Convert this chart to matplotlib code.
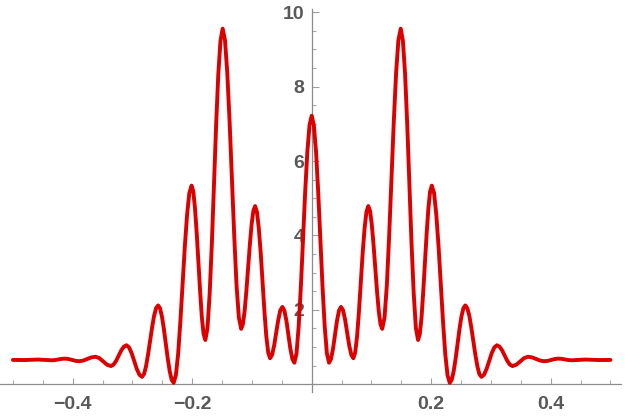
import matplotlib
matplotlib.use("Agg")
import matplotlib.pyplot as plt
from matplotlib.ticker import MultipleLocator, FixedLocator

# Curve samples (x, intensity), left half and right half
x_left = [-0.5, -0.49, -0.48, -0.469, -0.458, -0.4465, -0.435, -0.4295, -0.424, -0.4185,
          -0.413, -0.407, -0.401, -0.395, -0.389, -0.3823, -0.3755, -0.3688, -0.362, -0.3555,
          -0.349, -0.3425, -0.336, -0.3317, -0.3273, -0.323, -0.3187, -0.3143, -0.310, -0.3057,
          -0.3013, -0.297, -0.2927, -0.2883, -0.284, -0.2806, -0.2773, -0.2739, -0.2705, -0.2671,
          -0.2638, -0.2604, -0.257, -0.2538, -0.2505, -0.2473, -0.244, -0.2408, -0.2375, -0.2343,
          -0.231, -0.2273, -0.2235, -0.2198, -0.216, -0.2123, -0.2085, -0.2048, -0.201, -0.1981,
          -0.1953, -0.1924, -0.1895, -0.1866, -0.1838, -0.1809, -0.178, -0.1744, -0.1708, -0.1671,
          -0.1635, -0.1599, -0.1563, -0.1526, -0.149, -0.1451, -0.1413, -0.1374, -0.1335, -0.1296,
          -0.1258, -0.1219, -0.118, -0.1151, -0.1122, -0.1093, -0.1064, -0.1034, -0.1005, -0.0976,
          -0.0947, -0.0916, -0.0885, -0.0853, -0.0822, -0.0791, -0.076, -0.0728, -0.0697, -0.0663,
          -0.0628, -0.0594, -0.0559, -0.0525, -0.049, -0.0457, -0.0423, -0.039, -0.0357, -0.0323,
          -0.029, -0.0254, -0.0218, -0.0181, -0.0145, -0.0109, -0.0073, -0.0036]
y_left = [0.655, 0.653, 0.652, 0.658, 0.665, 0.655, 0.645, 0.652, 0.668, 0.683,
          0.69, 0.68, 0.655, 0.63, 0.62, 0.638, 0.68, 0.723, 0.74, 0.704,
          0.615, 0.527, 0.49, 0.528, 0.63, 0.77, 0.91, 1.012, 1.05, 0.993,
          0.838, 0.625, 0.413, 0.257, 0.20, 0.273, 0.481, 0.793, 1.16, 1.527,
          1.839, 2.047, 2.12, 2.041, 1.815, 1.478, 1.08, 0.682, 0.345, 0.119,
          0.04, 0.242, 0.816, 1.676, 2.69, 3.704, 4.564, 5.138, 5.34, 5.182,
          4.732, 4.059, 3.265, 2.471, 1.798, 1.348, 1.19, 1.509, 2.415, 3.774,
          5.375, 6.976, 8.335, 9.241, 9.56, 9.253, 8.379, 7.069, 5.525, 3.981,
          2.671, 1.797, 1.49, 1.616, 1.973, 2.509, 3.14, 3.771, 4.307, 4.664,
          4.79, 4.634, 4.191, 3.527, 2.745, 1.963, 1.299, 0.856, 0.70, 0.79,
          1.045, 1.39, 1.735, 1.99, 2.08, 1.98, 1.705, 1.33, 0.955, 0.68,
          0.58, 0.833, 1.552, 2.63, 3.90, 5.17, 6.248, 6.967]
x_right = [0.0, 0.0036, 0.0073, 0.0109, 0.0145, 0.0181, 0.0218, 0.0254, 0.029, 0.0323,
           0.0357, 0.039, 0.0423, 0.0457, 0.049, 0.0525, 0.0559, 0.0594, 0.0628, 0.0663,
           0.0697, 0.0728, 0.076, 0.0791, 0.0822, 0.0853, 0.0885, 0.0916, 0.0947, 0.0976,
           0.1005, 0.1034, 0.1064, 0.1093, 0.1122, 0.1151, 0.118, 0.1219, 0.1258, 0.1296,
           0.1335, 0.1374, 0.1413, 0.1451, 0.149, 0.1526, 0.1563, 0.1599, 0.1635, 0.1671,
           0.1708, 0.1744, 0.178, 0.1809, 0.1838, 0.1866, 0.1895, 0.1924, 0.1953, 0.1981,
           0.201, 0.2048, 0.2085, 0.2123, 0.216, 0.2198, 0.2235, 0.2273, 0.231, 0.2343,
           0.2375, 0.2408, 0.244, 0.2473, 0.2505, 0.2538, 0.257, 0.2604, 0.2638, 0.2671,
           0.2705, 0.2739, 0.2773, 0.2806, 0.284, 0.2883, 0.2927, 0.297, 0.3013, 0.3057,
           0.310, 0.3143, 0.3187, 0.323, 0.3273, 0.3317, 0.336, 0.3425, 0.349, 0.3555,
           0.362, 0.3688, 0.3755, 0.3823, 0.389, 0.395, 0.401, 0.407, 0.413, 0.4185,
           0.424, 0.4295, 0.435, 0.4465, 0.458, 0.469, 0.48, 0.49, 0.5]
y_right = [7.22, 6.967, 6.248, 5.17, 3.90, 2.63, 1.552, 0.833, 0.58, 0.68,
           0.955, 1.33, 1.705, 1.98, 2.08, 1.99, 1.735, 1.39, 1.045, 0.79,
           0.70, 0.856, 1.299, 1.963, 2.745, 3.527, 4.191, 4.634, 4.79, 4.664,
           4.307, 3.771, 3.14, 2.509, 1.973, 1.616, 1.49, 1.797, 2.671, 3.981,
           5.525, 7.069, 8.379, 9.253, 9.56, 9.241, 8.335, 6.976, 5.375, 3.774,
           2.415, 1.509, 1.19, 1.348, 1.798, 2.471, 3.265, 4.059, 4.732, 5.182,
           5.34, 5.138, 4.564, 3.704, 2.69, 1.676, 0.816, 0.242, 0.04, 0.119,
           0.345, 0.682, 1.08, 1.478, 1.815, 2.041, 2.12, 2.047, 1.839, 1.527,
           1.16, 0.793, 0.481, 0.273, 0.20, 0.257, 0.413, 0.625, 0.838, 0.993,
           1.05, 1.012, 0.91, 0.77, 0.63, 0.528, 0.49, 0.527, 0.615, 0.704,
           0.74, 0.723, 0.68, 0.638, 0.62, 0.63, 0.655, 0.68, 0.69, 0.683,
           0.668, 0.652, 0.645, 0.655, 0.665, 0.658, 0.652, 0.653, 0.655]

x_major = [-0.4, -0.2, 0.2, 0.4]
x_labels = ["\u22120.4", "\u22120.2", "0.2", "0.4"]
y_major = [2, 4, 6, 8, 10]
y_labels = ["2", "4", "6", "8", "10"]

x_vals = x_left + x_right
y_vals = y_left + y_right

fig = plt.figure(figsize=(6.25, 4.2), dpi=100)
ax = fig.add_axes([0.0, 0.0674, 0.9936, 0.9105])
ax.set_axisbelow(True)

ax.plot(x_vals, y_vals, color="#dc0000", lw=2.8, solid_joinstyle="round",
        solid_capstyle="round", zorder=3)

ax.set_xlim(-0.5216, 0.5176)
ax.set_ylim(-0.199, 10.08)

for s in ["top", "right"]:
    ax.spines[s].set_visible(False)
ax.spines["left"].set_position(("data", 0))
ax.spines["bottom"].set_position(("data", 0))
for s in ["left", "bottom"]:
    ax.spines[s].set_color("#8c8c8c")
    ax.spines[s].set_linewidth(0.9)

ax.xaxis.set_major_locator(FixedLocator(x_major))
ax.set_xticklabels(x_labels)
ax.xaxis.set_minor_locator(MultipleLocator(0.05))
ax.yaxis.set_major_locator(FixedLocator(y_major))
ax.set_yticklabels(y_labels)
ax.yaxis.set_minor_locator(MultipleLocator(0.5))

for lab in ax.get_xticklabels() + ax.get_yticklabels():
    lab.set_fontfamily("Liberation Sans")
    lab.set_fontweight("bold")
    lab.set_fontsize(14)
    lab.set_color("#585858")

ax.tick_params(axis="x", which="major", direction="in", length=4, width=0.8,
               color="#a0a0a0", pad=8.3)
ax.tick_params(axis="x", which="minor", direction="in", length=3, width=0.8,
               color="#a8a8a8")
ax.tick_params(axis="y", which="major", direction="in", length=5, width=0.8,
               color="#a0a0a0", pad=5.3)
ax.tick_params(axis="y", which="minor", direction="in", length=3, width=0.8,
               color="#a8a8a8")

fig.savefig("out.png", dpi=100)
